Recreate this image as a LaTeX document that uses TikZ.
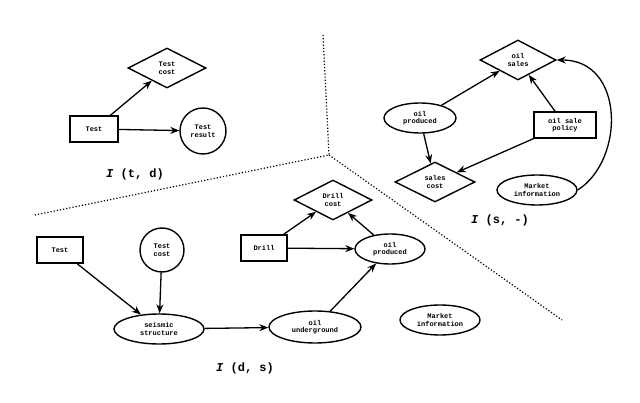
\documentclass[tikz,border=0pt]{standalone}
\usepackage{fontspec}
\setmonofont{Liberation Mono}
\usetikzlibrary{shapes.geometric,arrows.meta}
\begin{document}
\begin{tikzpicture}[x=1pt,y=-1pt,
  every node/.style={font=\ttfamily\bfseries\fontsize{7}{7.5}\selectfont,align=center,draw,line width=1.4pt,inner sep=1pt},
  box/.style={rectangle,minimum width=46pt,minimum height=26pt},
  dia/.style={diamond,aspect=2,minimum width=78pt,minimum height=40pt,inner sep=0pt},
  ell/.style={ellipse,minimum width=80pt,minimum height=30pt,inner sep=0pt},
  circ/.style={circle,minimum size=46pt},
  lab/.style={draw=none,font=\ttfamily\bfseries\fontsize{12}{13}\selectfont},
  arr/.style={-{Stealth[length=9pt,width=7pt,open]},line width=1.3pt},
  div/.style={dotted,line width=1.2pt}]
\useasboundingbox (0,0) rectangle (640,403);
% dividers
\coordinate (c0) at (323,35);
\coordinate (cm) at (329,155);
\coordinate (cl) at (35,215);
\coordinate (cr) at (562,320);
\draw[div] (c0) -- (cm) -- (cl);
\draw[div] (cm) -- (cr);
% top-left
\node[dia] (tc1) at (167,68) {Test\\cost};
\node[box,minimum width=48pt] (t1) at (94,129) {Test};
\node[circ] (tr) at (203,131) {Test\\result};
\node[lab] (l1) at (135,174) {\textit{I} (t, d)};
\draw[arr] (t1) -- (tc1);
\draw[arr] (t1) -- (tr);
% right
\node[dia,minimum width=76pt] (os) at (518,60) {oil\\sales};
\node[ell,minimum width=72pt] (op2) at (420,118) {oil\\produced};
\node[box,minimum width=62pt] (pol) at (565,125) {oil sale\\policy};
\node[dia,minimum width=80pt] (sc) at (435,182) {sales\\cost};
\node[ell] (mi2) at (537,190) {Market\\information};
\node[lab] (l2) at (500,220) {\textit{I} (s, -)};
\draw[arr] (op2) -- (os);
\draw[arr] (pol) -- (os);
\draw[arr] (op2) -- (sc);
\draw[arr] (pol.south west) -- (sc);
\draw[arr] (mi2.east) .. controls (625,160) and (625,60) .. (os.east);
% bottom
\node[box] (t2) at (60,250) {Test};
\node[circ,minimum size=44pt] (tc2) at (162,250) {Test\\cost};
\node[box] (dr) at (264,248) {Drill};
\node[dia] (dc) at (333,200) {Drill\\cost};
\node[ell,minimum width=70pt] (op3) at (390,249) {oil\\produced};
\node[ell,minimum width=90pt] (ss) at (159,329) {seismic\\structure};
\node[ell,minimum width=92pt,minimum height=32pt] (ou) at (315,327) {oil\\underground};
\node[ell] (mi3) at (440,320) {Market\\information};
\node[lab] (l3) at (245,368) {\textit{I} (d, s)};
\draw[arr] (t2) -- (ss);
\draw[arr] (tc2) -- (ss);
\draw[arr] (ss) -- (ou);
\draw[arr] (ou) -- (op3);
\draw[arr] (dr) -- (op3);
\draw[arr] (dr) -- (dc);
\draw[arr] (op3) -- (dc);
\end{tikzpicture}
\end{document}
